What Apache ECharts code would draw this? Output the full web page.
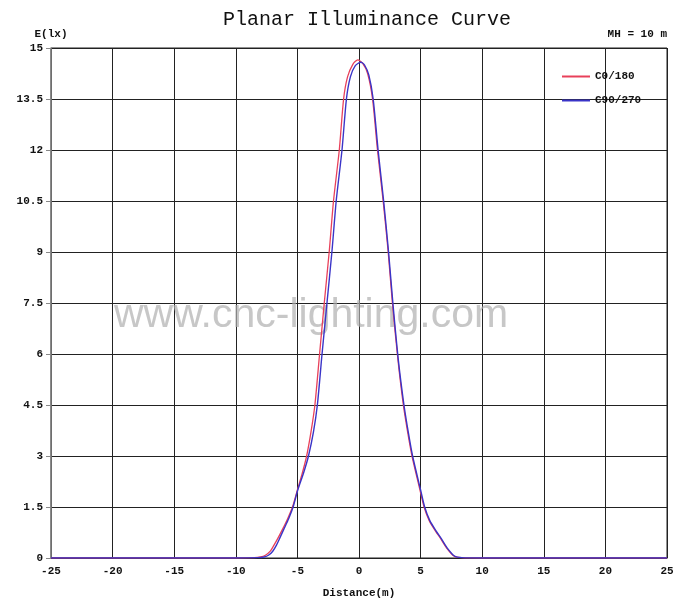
<!DOCTYPE html>
<html>
<head>
<meta charset="utf-8">
<script src="https://cdn.jsdelivr.net/npm/echarts@6/dist/echarts.min.js"></script>
<style>
html,body{margin:0;padding:0;background:#fff;}
#chart{width:686px;height:604px;}
</style>
</head>
<body>
<div id="chart"></div>
<script>
// Distance (m) and illuminance (lx)
var redX = [-25, -10, -8.5, -8, -7.6, -7.2, -6.9, -6.6, -6.2, -5.8, -5.4, -5.0, -4.6, -4.25, -3.9, -3.58, -3.2, -2.82, -2.42, -2.07, -1.6, -1.25, -0.93, -0.5, -0.1, 0.3, 0.7, 1.1, 1.5, 1.96, 2.37, 2.71, 3.17, 3.6, 3.95, 4.3, 4.95, 5.28, 5.7, 6.2, 6.63, 7.1, 7.7, 8.3, 10, 25];
var redY = [0, 0, 0.01, 0.03, 0.08, 0.2, 0.38, 0.57, 0.85, 1.15, 1.5, 2.0, 2.5, 3.0, 3.7, 4.5, 6.0, 7.5, 9.0, 10.5, 12.0, 13.5, 14.15, 14.52, 14.65, 14.55, 14.25, 13.5, 12.0, 10.5, 9.0, 7.5, 5.8, 4.5, 3.7, 3.0, 2.0, 1.5, 1.1, 0.8, 0.57, 0.3, 0.06, 0.01, 0, 0];
var blueX = [-25, -10, -8.2, -7.7, -7.35, -7.0, -6.7, -6.45, -6.1, -5.72, -5.35, -4.97, -4.5, -4.1, -3.7, -3.38, -3.0, -2.6, -2.2, -1.85, -1.38, -1.02, -0.7, -0.3, 0.15, 0.45, 0.8, 1.15, 1.55, 2.0, 2.4, 2.75, 3.2, 3.65, 4.0, 4.35, 5.0, 5.33, 5.75, 6.25, 6.68, 7.15, 7.75, 8.35, 10, 25];
var blueY = [0, 0, 0.01, 0.03, 0.08, 0.2, 0.38, 0.57, 0.85, 1.15, 1.5, 2.0, 2.5, 3.0, 3.7, 4.5, 6.0, 7.5, 9.0, 10.5, 12.0, 13.5, 14.15, 14.48, 14.58, 14.5, 14.2, 13.5, 12.0, 10.5, 9.0, 7.5, 5.8, 4.5, 3.7, 3.0, 2.0, 1.5, 1.1, 0.8, 0.57, 0.3, 0.06, 0.01, 0, 0];
var seriesNames = ['C0/180', 'C90/270'];
var titleText = 'Planar Illuminance Curve';
var yName = 'E(lx)';
var xName = 'Distance(m)';
var noteText = 'MH = 10 m';
var watermark = 'www.cnc-lighting.com';

function pairs(xs, ys){ return xs.map(function(x,i){ return [x, ys[i]]; }); }

var mono = '"Liberation Mono", "DejaVu Sans Mono", monospace';
var chart = echarts.init(document.getElementById('chart'));
chart.setOption({
  backgroundColor: '#fff',
  animation: false,
  title: {
    text: titleText, left: 218, top: 5,
    textStyle: {fontFamily: mono, fontSize: 20, fontWeight: 'normal', color: '#111'}
  },
  grid: {left: 51, right: 19, top: 48, bottom: 41, show: true, borderColor: '#222', borderWidth: 1},
  legend: {
    orient: 'vertical', left: 557, top: 66, itemGap: 13,
    icon: 'rect', itemWidth: 28, itemHeight: 2,
    textStyle: {fontFamily: mono, fontSize: 11, fontWeight: 'bold', color: '#111'},
    data: seriesNames
  },
  xAxis: {
    type: 'value', min: -25, max: 25, interval: 5,
    name: xName, nameLocation: 'middle', nameGap: 30,
    nameTextStyle: {fontFamily: mono, fontSize: 11, fontWeight: 'bold', color: '#111'},
    axisLine: {show: true, onZero: false, lineStyle: {color: '#222', width: 1}},
    axisTick: {show: false},
    axisLabel: {fontFamily: mono, fontSize: 11, fontWeight: 'bold', color: '#111', margin: 8},
    splitLine: {show: true, lineStyle: {color: '#222', width: 1}}
  },
  yAxis: {
    type: 'value', min: 0, max: 15, interval: 1.5,
    name: yName, nameLocation: 'end', nameGap: 8,
    nameTextStyle: {fontFamily: mono, fontSize: 11, fontWeight: 'bold', color: '#111', align: 'center'},
    axisLine: {show: true, onZero: false, lineStyle: {color: '#888', width: 1.5}},
    axisTick: {show: true, length: 5, lineStyle: {color: '#888'}},
    axisLabel: {fontFamily: mono, fontSize: 11, fontWeight: 'bold', color: '#111', margin: 8},
    splitLine: {show: true, lineStyle: {color: '#222', width: 1}}
  },
  graphic: [
    {type: 'text', right: 19, top: 29, z: 5,
     style: {text: noteText, font: 'bold 11px ' + mono, fill: '#111'}},
    {type: 'text', left: 114, top: 295, z: 1, silent: true,
     style: {text: watermark, font: '41px "Liberation Sans", Arial, sans-serif', fill: 'rgba(175,175,175,0.7)'}}
  ],
  series: [
    {name: seriesNames[0], type: 'line', data: pairs(redX, redY), smooth: 0.25, symbol: 'none', z: 3,
     itemStyle: {color: '#e8405a'}, lineStyle: {color: '#e8405a', width: 1.3}},
    {name: seriesNames[1], type: 'line', data: pairs(blueX, blueY), smooth: 0.25, symbol: 'none', z: 4,
     itemStyle: {color: '#3a34c8'}, lineStyle: {color: '#3a34c8', width: 1.4}}
  ]
});
</script>
</body>
</html>
